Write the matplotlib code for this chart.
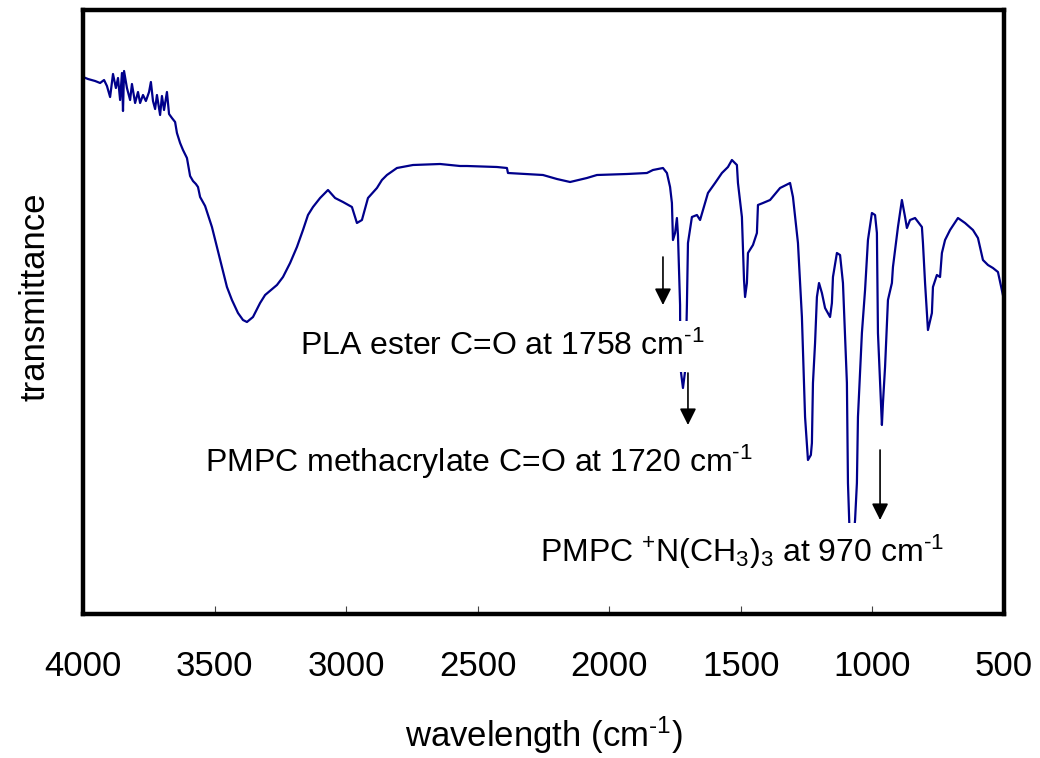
"""FT-IR transmittance spectrum with PLA / PMPC band annotations."""

import matplotlib
matplotlib.use("Agg")
import matplotlib.pyplot as plt

plt.rcParams["font.family"] = ["Liberation Sans", "DejaVu Sans"]
plt.rcParams["mathtext.fontset"] = "custom"
plt.rcParams["mathtext.rm"] = "Liberation Sans"
plt.rcParams["mathtext.it"] = "Liberation Sans:italic"
plt.rcParams["mathtext.default"] = "regular"

# --------------------------------------------------------------------------- #
# spectrum (wavenumber cm-1, transmittance arb. units)    #
# --------------------------------------------------------------------------- #
WAVENUMBER = [
    4000, 3981, 3954, 3935, 3920, 3909, 3897, 3886, 3875, 3867,
    3859, 3852, 3848, 3844, 3833, 3821, 3814, 3802, 3791, 3783,
    3772, 3761, 3749, 3742, 3734, 3726, 3719, 3707, 3700, 3692,
    3681, 3673, 3662, 3650, 3643, 3631, 3620, 3605, 3593, 3582,
    3571, 3563, 3555, 3536, 3510, 3491, 3472, 3453, 3434, 3411,
    3392, 3377, 3354, 3327, 3308, 3263, 3240, 3213, 3187, 3164,
    3145, 3126, 3099, 3069, 3042, 3012, 2978, 2959, 2940, 2917,
    2883, 2864, 2845, 2807, 2746, 2643, 2567, 2541, 2427, 2389,
    2385, 2252, 2199, 2149, 2085, 2047, 1933, 1857, 1834, 1796,
    1781, 1769, 1762, 1758, 1750, 1743, 1739, 1731, 1730, 1720,
    1710, 1705, 1701, 1686, 1667, 1655, 1644, 1625, 1598, 1572,
    1549, 1534, 1515, 1511, 1496, 1488, 1484, 1477, 1473, 1454,
    1439, 1435, 1416, 1389, 1351, 1313, 1302, 1283, 1268, 1264,
    1256, 1245, 1234, 1230, 1226, 1218, 1211, 1203, 1192, 1180,
    1161, 1154, 1150, 1135, 1123, 1112, 1097, 1093, 1082, 1066,
    1059, 1055, 1040, 1028, 1017, 1002, 990, 983, 979, 971,
    964, 960, 952, 941, 926, 922, 914, 903, 888, 876,
    869, 857, 838, 812, 808, 800, 789, 774, 770, 755,
    743, 736, 724, 705, 675, 648, 618, 599, 580, 561,
    542, 523, 508, 500,
]
TRANSMITTANCE = [
    537, 535, 533, 531, 534, 528, 517, 540, 526, 536,
    514, 541, 503, 543, 526, 514, 530, 511, 522, 511,
    519, 513, 522, 532, 513, 505, 519, 499, 518, 504,
    522, 500, 496, 492, 481, 471, 464, 456, 438, 433,
    430, 427, 417, 408, 387, 367, 347, 327, 314, 301,
    294, 292, 297, 311, 319, 329, 337, 351, 367, 384,
    399, 407, 416, 424, 416, 412, 407, 391, 394, 416,
    426, 434, 439, 446, 449, 450, 448, 448, 447, 446,
    441, 439, 435, 432, 436, 439, 440, 441, 444, 446,
    441, 427, 411, 374, 381, 396, 379, 309, 247, 226,
    247, 309, 371, 397, 399, 394, 404, 421, 431, 441,
    447, 454, 449, 431, 397, 334, 317, 331, 361, 369,
    381, 409, 411, 414, 426, 431, 417, 371, 297, 264,
    197, 154, 159, 171, 231, 271, 317, 331, 321, 306,
    297, 311, 337, 361, 359, 331, 231, 131, 44, 94,
    131, 197, 281, 324, 374, 401, 399, 381, 281, 231,
    189, 211, 247, 314, 331, 347, 364, 387, 414, 397,
    386, 394, 396, 387, 371, 331, 284, 301, 327, 339,
    337, 361, 374, 384, 396, 391, 384, 376, 354, 349,
    346, 342, 324, 314,
]

X_TICKS = [4000, 3500, 3000, 2500, 2000, 1500, 1000, 500]

INV_CM = "cm$^{\u2010 1}$"

# annotations: (label, text x, text baseline y, arrow x, arrow top, arrow tip)
NOTES = [
    ("PLA ester C=O at 1758 " + INV_CM, 3175, 259, 1796, 357, 309),
    ("PMPC methacrylate C=O at 1720 " + INV_CM, 3536, 142, 1701, 241, 189),
    ("PMPC $^{+}$N(CH$_{3}$)$_{3}$ at 970 " + INV_CM, 2263, 52, 971, 164, 94),
]

fig = plt.figure(figsize=(10.4, 7.58), dpi=100)
ax = fig.add_axes([83 / 1040, 1 - 614 / 758, 921 / 1040, 604 / 758])

ax.plot(WAVENUMBER, TRANSMITTANCE, color="#00008B", lw=1.6, zorder=2)

ax.set_xlim(4000, 500)
ax.set_ylim(0, 604)
ax.set_xticks(X_TICKS)
ax.set_yticks([])
ax.tick_params(axis="x", direction="in", length=6, width=0.8, color="#444444",
               labelsize=25, pad=26)
for s in ax.spines.values():
    s.set_linewidth(3.2)

for label, tx, ty, axx, ay0, ay1 in NOTES:
    ax.text(tx, ty, label, fontsize=23, va="baseline", ha="left", zorder=3,
            bbox=dict(boxstyle="square,pad=0.3", fc="white", ec="none"))
for label, tx, ty, axx, ay0, ay1 in NOTES:
    ax.annotate("", xy=(axx, ay1), xytext=(axx, ay0), zorder=4,
                arrowprops=dict(arrowstyle="-|>", color="black", lw=1.2,
                                mutation_scale=25, shrinkA=0, shrinkB=0))

ax.set_xlabel("wavelength (" + INV_CM + ")", fontsize=25)
ax.xaxis.set_label_coords(0.5, -0.166)
ax.set_ylabel("transmittance", fontsize=25)
ax.yaxis.set_label_coords(-0.034, 0.525)

fig.savefig("out.png", dpi=100)
